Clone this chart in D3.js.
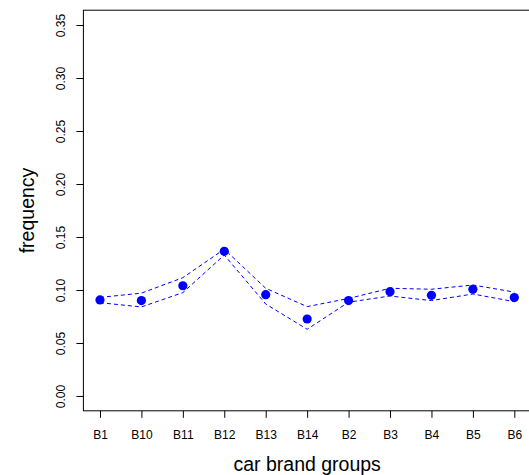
<!DOCTYPE html>
<html>
<head>
<meta charset="utf-8">
<script src="https://cdn.jsdelivr.net/npm/d3@7"></script>
<style>
  body { margin: 0; background: #fff; }
  svg { font-family: "Liberation Sans", Arial, sans-serif; }
</style>
</head>
<body>
<svg id="chart" width="529" height="475"></svg>
<script>
var brands = ["B1", "B10", "B11", "B12", "B13", "B14", "B2", "B3", "B4", "B5", "B6"];
var freq   = [0.0906, 0.0900, 0.1040, 0.1365, 0.0956, 0.0726, 0.0900, 0.0984, 0.0950, 0.1007, 0.0928];
var upper  = [0.0930, 0.0970, 0.1116, 0.1385, 0.1016, 0.0843, 0.0920, 0.1016, 0.1007, 0.1047, 0.0980];
var lower  = [0.0880, 0.0840, 0.0975, 0.1330, 0.0868, 0.0629, 0.0885, 0.0943, 0.0900, 0.0962, 0.0890];
var yTicks = [0, 0.05, 0.10, 0.15, 0.20, 0.25, 0.30, 0.35];

var svg = d3.select("#chart");

// R style: 4% padding on each side of the data range
var x = d3.scaleLinear()
    .domain([1 - 0.4, 11 + 0.4])
    .range([83.4, 530.9]);

var y = d3.scaleLinear()
    .domain([-0.014, 0.364])
    .range([410.8, 10.2]);

var xIdx = brands.map(function(d, i) { return i + 1; });

// box (right side falls off the canvas)
svg.append("rect")
    .attr("x", x(0.6))
    .attr("y", y(0.364))
    .attr("width", x(11.4) - x(0.6))
    .attr("height", y(-0.014) - y(0.364))
    .attr("fill", "none")
    .attr("stroke", "#000")
    .attr("stroke-width", 1);

// y axis
var yAxis = d3.axisLeft(y)
    .tickValues(yTicks)
    .tickFormat(d3.format(".2f"))
    .tickSize(7);

var gy = svg.append("g")
    .attr("transform", "translate(" + x(0.6) + ",0)")
    .call(yAxis);
gy.select(".domain").remove();
gy.selectAll(".tick text")
    .attr("font-size", "12px")
    .attr("fill", "#000")
    .attr("text-anchor", "middle")
    .attr("dy", 0)
    .attr("x", 0)
    .attr("y", 0)
    .attr("transform", "translate(-18,0) rotate(-90)");

// x axis
var xAxis = d3.axisBottom(x)
    .tickValues(xIdx)
    .tickFormat(function(d) { return brands[d - 1]; })
    .tickSize(7)
    .tickPadding(13);

var gx = svg.append("g")
    .attr("transform", "translate(0," + y(-0.014) + ")")
    .call(xAxis);
gx.select(".domain").remove();
gx.selectAll("text")
    .attr("font-size", "12px")
    .attr("fill", "#000");

// band lines
var line = d3.line()
    .x(function(d, i) { return x(i + 1); })
    .y(function(d) { return y(d); });

[upper, lower].forEach(function(s) {
  svg.append("path")
      .datum(s)
      .attr("d", line)
      .attr("fill", "none")
      .attr("stroke", "#0000ff")
      .attr("stroke-width", 1)
      .attr("stroke-dasharray", "4,3");
});

// points
svg.selectAll("circle.pt")
    .data(freq)
    .enter()
    .append("circle")
    .attr("class", "pt")
    .attr("cx", function(d, i) { return x(i + 1); })
    .attr("cy", function(d) { return y(d); })
    .attr("r", 4.6)
    .attr("fill", "#0000ff");

// axis titles
svg.append("text")
    .attr("x", x(6))
    .attr("y", 471)
    .attr("text-anchor", "middle")
    .attr("font-size", "19.5px")
    .text("car brand groups");

svg.append("text")
    .attr("transform", "translate(34," + y(0.175) + ") rotate(-90)")
    .attr("text-anchor", "middle")
    .attr("font-size", "19.5px")
    .text("frequency");
</script>
</body>
</html>
